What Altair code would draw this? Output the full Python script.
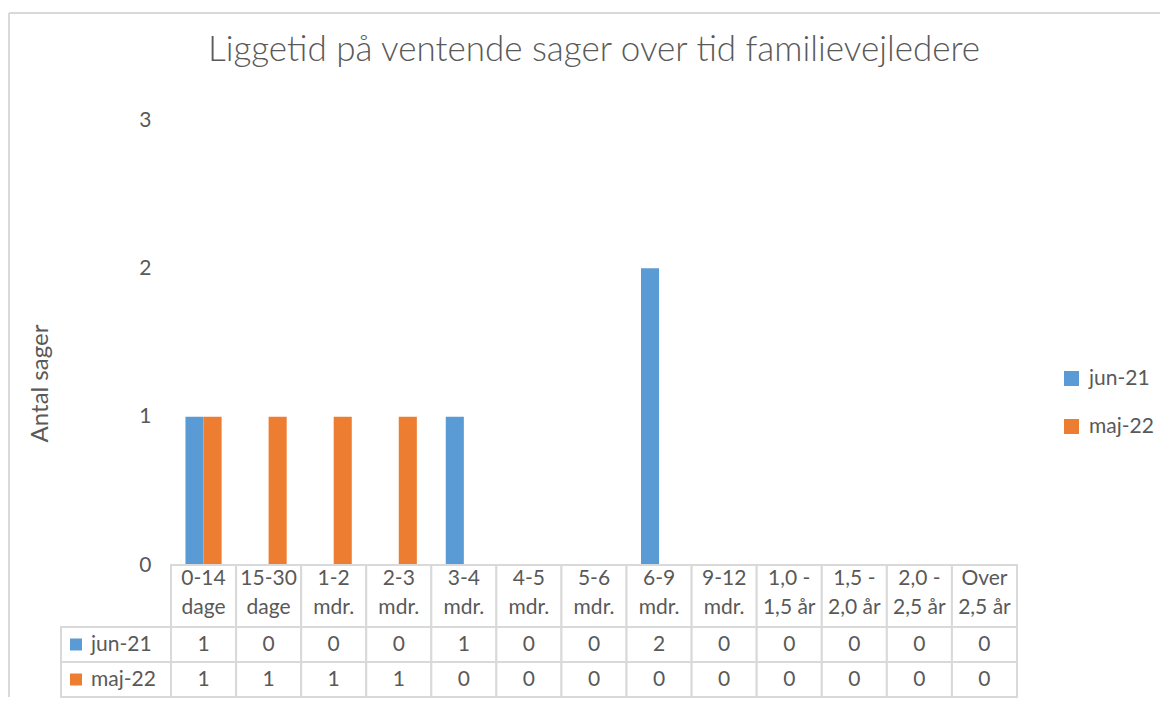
import altair as alt
import pandas as pd

# ---- data ----
categories = ["0-14 dage", "15-30 dage", "1-2 mdr.", "2-3 mdr.", "3-4 mdr.",
              "4-5 mdr.", "5-6 mdr.", "6-9 mdr.", "9-12 mdr.", "1,0 - 1,5 år",
              "1,5 - 2,0 år", "2,0 - 2,5 år", "Over 2,5 år"]
series = ["jun-21", "maj-22"]
jun21 = [1, 0, 0, 0, 1, 0, 0, 2, 0, 0, 0, 0, 0]
maj22 = [1, 1, 1, 1, 0, 0, 0, 0, 0, 0, 0, 0, 0]
colors = ["#5B9BD5", "#ED7D31"]
title_text = "Liggetid på ventende sager over tid familievejledere"
y_title = "Antal sager"
y_ticks = [0, 1, 2, 3]

rows = []
for s, vals in zip(series, [jun21, maj22]):
    for c, v in zip(categories, vals):
        rows.append({"kategori": c, "serie": s, "antal": v})
df = pd.DataFrame(rows)
hdr = pd.DataFrame({"kategori": categories})
ser = pd.DataFrame({"serie": series})
one = pd.DataFrame({"a": [0]})

TEXT = "#595959"
LINE = "#D9D9D9"
FONT = "Lato"
FS = 21
W = 846

x_enc = alt.X("kategori:N", sort=categories, axis=None,
              scale=alt.Scale(paddingInner=0, paddingOuter=0))
color_scale = alt.Scale(domain=series, range=colors)

bars = alt.Chart(df).mark_bar().encode(
    x=x_enc,
    xOffset=alt.XOffset("serie:N", sort=series,
                        scale=alt.Scale(paddingInner=0, paddingOuter=0.8)),
    y=alt.Y("antal:Q", scale=alt.Scale(domain=[0, 3]),
            axis=alt.Axis(values=y_ticks, grid=False, domain=False, ticks=False,
                          labelPadding=20, labelFontSize=FS, labelColor=TEXT,
                          labelFont=FONT, title=y_title, titleFontSize=24,
                          titleFontWeight="normal", titleColor=TEXT, titleFont=FONT,
                          titleX=-131, titleY=263, titleAngle=270,
                          titleAlign="center", titleBaseline="middle")),
    color=alt.Color("serie:N", sort=series, scale=color_scale,
                    legend=alt.Legend(title=None, orient="none", legendX=890,
                                      legendY=248, symbolType="square",
                                      symbolSize=225, symbolStrokeWidth=0,
                                      labelFontSize=FS, labelColor=TEXT,
                                      labelFont=FONT, rowPadding=26,
                                      labelOffset=7)),
).properties(
    width=W, height=445,
    title=alt.TitleParams(title_text, fontSize=35, font=FONT, fontWeight=300,
                          color=TEXT, anchor="middle", frame="group", offset=41),
)

# header row of the data table (category labels)
header_base = alt.Chart(hdr).transform_calculate(
    tekst="indexof(datum.kategori, ' - ') >= 0 ? replace(datum.kategori, ' - ', ' -|') : replace(datum.kategori, ' ', '|')"
)
header_cells = header_base.mark_rect(fill="white", stroke=LINE, strokeWidth=2).encode(x=x_enc)
header_text = header_base.mark_text(lineBreak="|", fontSize=FS, font=FONT,
                                    color=TEXT, lineHeight=29, dy=-17).encode(
    x=x_enc, text="tekst:N")
header = alt.layer(header_cells, header_text).properties(width=W, height=62)

# value rows of the data table
y_tab = alt.Y("serie:N", sort=series, axis=None,
              scale=alt.Scale(paddingInner=0, paddingOuter=0))
cells = alt.Chart(df).mark_rect(fill="white", stroke=LINE, strokeWidth=2).encode(
    x=x_enc, y=y_tab)
values = alt.Chart(df).mark_text(fontSize=FS, font=FONT, color=TEXT).encode(
    x=x_enc, y=y_tab, text="antal:Q")
row_cells = alt.Chart(ser).mark_rect(fill="white", stroke=LINE, strokeWidth=2).encode(
    x=alt.value(-110), x2=alt.value(0), y=y_tab)
row_sq = alt.Chart(ser).mark_square(size=144, opacity=1, filled=True).encode(
    x=alt.value(-95), y=y_tab,
    color=alt.Color("serie:N", sort=series, scale=color_scale, legend=None))
row_lab = alt.Chart(ser).mark_text(align="left", fontSize=FS, font=FONT,
                                   color=TEXT).encode(
    x=alt.value(-80), y=y_tab, text="serie:N")
frame_top = alt.Chart(one).mark_rule(color=LINE, strokeWidth=2).encode(
    x=alt.value(-162), x2=alt.value(989), y=alt.value(-614))
frame_left = alt.Chart(one).mark_rule(color=LINE, strokeWidth=2).encode(
    x=alt.value(-162), y=alt.value(-614), y2=alt.value(70))
table = alt.layer(cells, values, row_cells, row_sq, row_lab, frame_top,
                  frame_left).properties(width=W, height=70)

chart = alt.vconcat(bars, header, table, spacing=0, bounds="flush").resolve_scale(
    color="independent"
).properties(
    padding={"left": 0, "top": 4, "right": 0, "bottom": 0}
).configure(font=FONT).configure_view(stroke=None)

chart.save("out.html", embed_options={"renderer": "svg", "actions": False})
